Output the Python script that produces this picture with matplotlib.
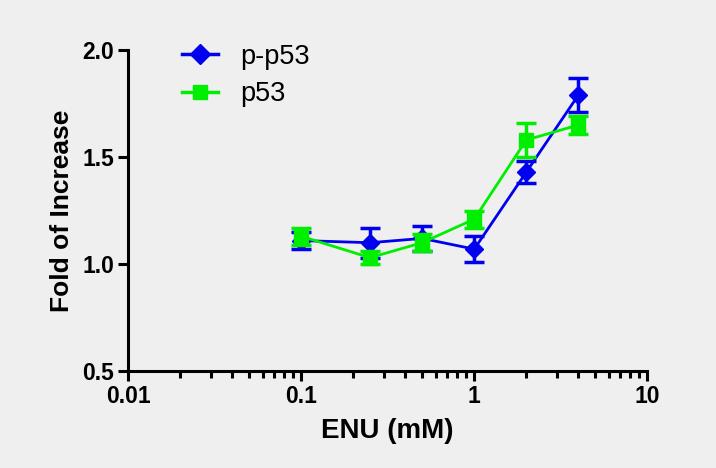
import matplotlib
matplotlib.use("Agg")
import matplotlib.pyplot as plt
from matplotlib.lines import Line2D
from matplotlib.ticker import LogLocator, FixedLocator, NullFormatter

plt.rcParams['font.family'] = ['Liberation Sans', 'DejaVu Sans']

enu = [0.1, 0.25, 0.5, 1, 2, 4]
pp53 = [1.11, 1.10, 1.12, 1.07, 1.43, 1.79]
pp53_err = [0.04, 0.07, 0.06, 0.06, 0.05, 0.08]
p53 = [1.13, 1.03, 1.10, 1.21, 1.58, 1.65]
p53_err = [0.04, 0.03, 0.04, 0.04, 0.08, 0.04]

blue = '#0000ee'
green = '#00ee00'
bg = '#efefef'
fig = plt.figure(figsize=(7.16, 4.68), dpi=100, facecolor=bg)
ax = fig.add_axes([0.179, 0.207, 0.725, 0.686], facecolor=bg)

ax.errorbar(enu, pp53, yerr=pp53_err, color=blue, marker='D', markersize=9,
            lw=2, elinewidth=2.5, capsize=7, capthick=2.5, zorder=3)
ax.errorbar(enu, p53, yerr=p53_err, color=green, marker='s', markersize=10,
            lw=2, elinewidth=2.5, capsize=7, capthick=2.5, zorder=4)

ax.set_xscale('log')
ax.set_xlim(0.01, 10)
ax.set_ylim(0.5, 2.0)
ax.xaxis.set_major_locator(FixedLocator([0.01, 0.1, 1, 10]))
ax.set_xticklabels(['0.01', '0.1', '1', '10'])
ax.xaxis.set_minor_locator(LogLocator(base=10, subs=range(2, 10)))
ax.xaxis.set_minor_formatter(NullFormatter())
ax.set_yticks([0.5, 1.0, 1.5, 2.0])
ax.set_yticklabels(['0.5', '1.0', '1.5', '2.0'])

for s in ['top', 'right']:
    ax.spines[s].set_visible(False)
for s in ['left', 'bottom']:
    ax.spines[s].set_linewidth(2.2)
ax.tick_params(axis='both', which='major', length=7, width=2.2, labelsize=16.5, pad=3)
ax.tick_params(axis='x', which='minor', length=5, width=2.2)
for lab in ax.get_xticklabels() + ax.get_yticklabels():
    lab.set_fontweight('bold')

ax.set_xlabel('ENU (mM)', fontsize=20, fontweight='bold', labelpad=7)
ax.set_ylabel('Fold of Increase', fontsize=19, fontweight='bold', labelpad=6)

handles = [
    Line2D([], [], color=blue, marker='D', markersize=10, lw=2.5),
    Line2D([], [], color=green, marker='s', markersize=10, lw=2.5),
]
ax.legend(handles, ['p-p53', 'p53'], loc='upper left', bbox_to_anchor=(0.104, 1.02),
          frameon=False, fontsize=19.5, handlelength=1.33, handletextpad=0.8,
          labelspacing=0.42, borderpad=0, borderaxespad=0)

fig.savefig('out.png', dpi=100, facecolor=bg)
